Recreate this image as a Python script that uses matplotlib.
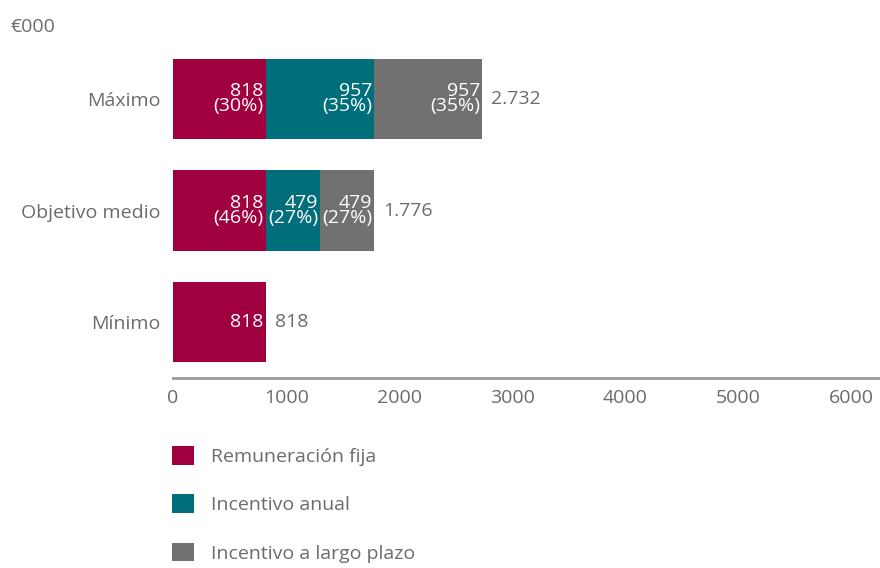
"""
Stacked horizontal bars: remuneration scenarios (€000).
"""

import matplotlib
matplotlib.use("Agg")
import matplotlib.pyplot as plt
from matplotlib.patches import Patch

CATEGORIES = ["Máximo", "Objetivo medio", "Mínimo"]
FIJA = [818, 818, 818]
ANUAL = [957, 479, 0]
LARGO = [957, 479, 0]
TOTALS = ["2.732", "1.776", "818"]
PCT_FIJA = ["30%", "46%", None]
PCT_ANUAL = ["35%", "27%", None]
PCT_LARGO = ["35%", "27%", None]
SERIES_NAMES = ["Remuneración fija", "Incentivo anual", "Incentivo a largo plazo"]
X_TICKS = [0, 1000, 2000, 3000, 4000, 5000, 6000]

COLORS = ["#A1003F", "#006F7B", "#717171"]
TEXT_GREY = "#6b6b6b"
FS = 14

plt.rcParams["font.family"] = ["Open Sans", "DejaVu Sans"]

fig = plt.figure(figsize=(8.8, 5.68), dpi=100)
ax = fig.add_axes([0.1966, 0.3345, 0.8034, 0.5898])

y = list(range(len(CATEGORIES)))
lefts = [0] * len(CATEGORIES)
for values, pcts, color in zip([FIJA, ANUAL, LARGO], [PCT_FIJA, PCT_ANUAL, PCT_LARGO], COLORS):
    ax.barh(y, values, left=lefts, height=0.72, color=color)
    for i, (v, p) in enumerate(zip(values, pcts)):
        if v == 0:
            continue
        label = f"{v}" if p is None else f"{v}\n({p})"
        ax.text(lefts[i] + v - 15, i, label, color="white", ha="right", va="center",
                fontsize=FS, linespacing=0.8)
    lefts = [l + v for l, v in zip(lefts, values)]

for i, total in enumerate(TOTALS):
    ax.text(lefts[i] + 80, i, total, color=TEXT_GREY, ha="left", va="center", fontsize=FS)

ax.set_xlim(0, 6250)
ax.set_ylim(2.5, -0.5)
ax.set_yticks(y)
ax.set_yticklabels(CATEGORIES, fontsize=FS, color=TEXT_GREY)
ax.set_xticks(X_TICKS)
ax.set_xticklabels([str(t) for t in X_TICKS], fontsize=FS, color=TEXT_GREY)
ax.tick_params(length=0, pad=8)
ax.tick_params(axis="y", pad=9)
for side in ["top", "right", "left"]:
    ax.spines[side].set_visible(False)
ax.spines["bottom"].set_color("#999999")
ax.spines["bottom"].set_linewidth(2)

fig.text(0.012, 0.952, "€000", fontsize=FS, color=TEXT_GREY, ha="left", va="center")

handles = [Patch(facecolor=c) for c in COLORS]
fig.legend(handles, SERIES_NAMES, loc="upper left", bbox_to_anchor=(0.176, 0.245),
           frameon=False, fontsize=FS, labelcolor=TEXT_GREY, handlelength=1.1,
           handleheight=1.1, handletextpad=0.9, labelspacing=1.45)

fig.savefig("out.png", dpi=100)
